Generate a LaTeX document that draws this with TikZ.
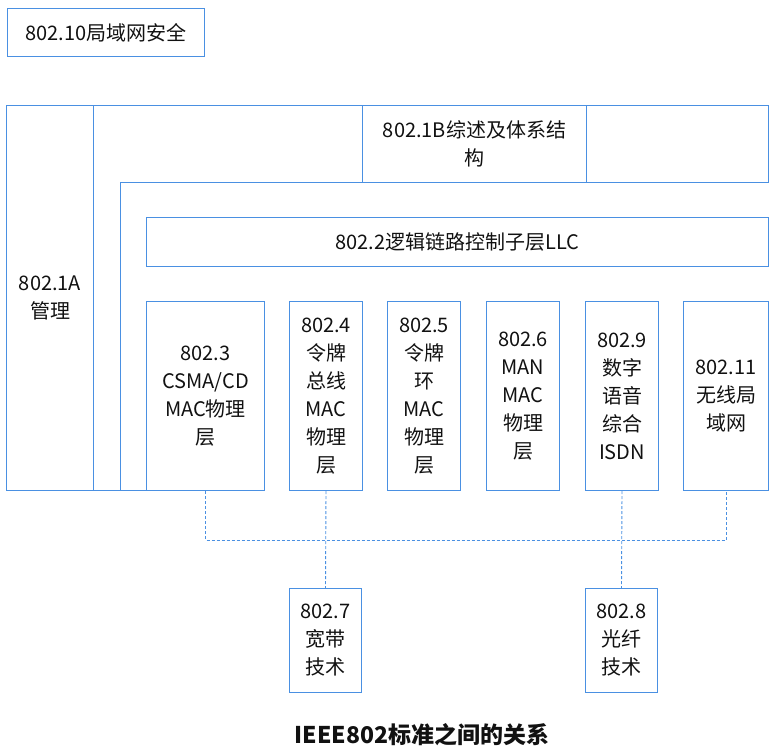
\documentclass[tikz,border=0pt]{standalone}
\usepackage{fontspec}
\setmainfont{Noto Sans CJK SC}
\definecolor{boxline}{HTML}{4A90E2}
\definecolor{textcol}{HTML}{111111}

\begin{document}
\begin{tikzpicture}[x=1pt, y=-1pt,
  stdbox/.style={draw=boxline, line width=1pt, inner sep=0pt, anchor=north west,
    align=center, text=textcol, font=\fontsize{20}{28}\selectfont},
  frame/.style={boxline, line width=1pt},
  link/.style={boxline, line width=0.9pt, dash pattern=on 3pt off 2pt}]
\useasboundingbox (0,0) rectangle (776,753);

% === Security ===
\node[stdbox, minimum width=197pt, minimum height=48pt] (sec) at (7,8) {802.10局域网安全};

% === Management column and overview band ===
\node[stdbox, minimum width=87pt, minimum height=385pt] (mgmt) at (6,105) {802.1A\\管理};
\draw[frame] (93,105) -- (362,105) -- (362,182) -- (120,182) -- (120,490) -- (93,490) -- cycle;
\draw[frame] (146,490) -- (120,490);
\node[stdbox, minimum width=224pt, minimum height=77pt] (arch) at (362,105) {802.1B综述及体系结\\构};
\node[stdbox, minimum width=182pt, minimum height=77pt] (blank) at (586,105) {};

% === LLC ===
\node[stdbox, minimum width=622pt, minimum height=49pt] (llc) at (146,217) {802.2逻辑链路控制子层LLC};

% === MAC layers ===
\node[stdbox, minimum width=118pt, minimum height=189pt] (csma) at (146,301)
  {802.3\\CSMA/CD\\MAC物理\\层};
\node[stdbox, minimum width=73pt, minimum height=189pt] (tbus) at (289,301)
  {802.4\\令牌\\总线\\MAC\\物理\\层};
\node[stdbox, minimum width=73pt, minimum height=189pt] (tring) at (387,301)
  {802.5\\令牌\\环\\MAC\\物理\\层};
\node[stdbox, minimum width=73pt, minimum height=189pt] (man) at (486,301)
  {802.6\\MAN\\MAC\\物理\\层};
\node[stdbox, minimum width=73pt, minimum height=189pt] (isdn) at (585,301)
  {802.9\\数字\\语音\\综合\\ISDN};
\node[stdbox, minimum width=85pt, minimum height=189pt] (wlan) at (683,301)
  {802.11\\无线局\\域网};

% === Broadband and fibre ===
\node[stdbox, minimum width=72pt, minimum height=104pt] (broad) at (289,588) {802.7\\宽带\\技术};
\node[stdbox, minimum width=72pt, minimum height=104pt] (fibre) at (585,588) {802.8\\光纤\\技术};

% === Dashed links ===
\draw[link] (csma.south) -- ++(0,49) -| (wlan.south);
\draw[link] (tbus.south) -- (broad.north);
\draw[link] (isdn.south) -- (fibre.north);

% === Caption ===
\node[text=textcol, font=\bfseries\fontsize{23}{28}\selectfont] (title) at (422,735)
  {IEEE802标准之间的关系};

\end{tikzpicture}
\end{document}
